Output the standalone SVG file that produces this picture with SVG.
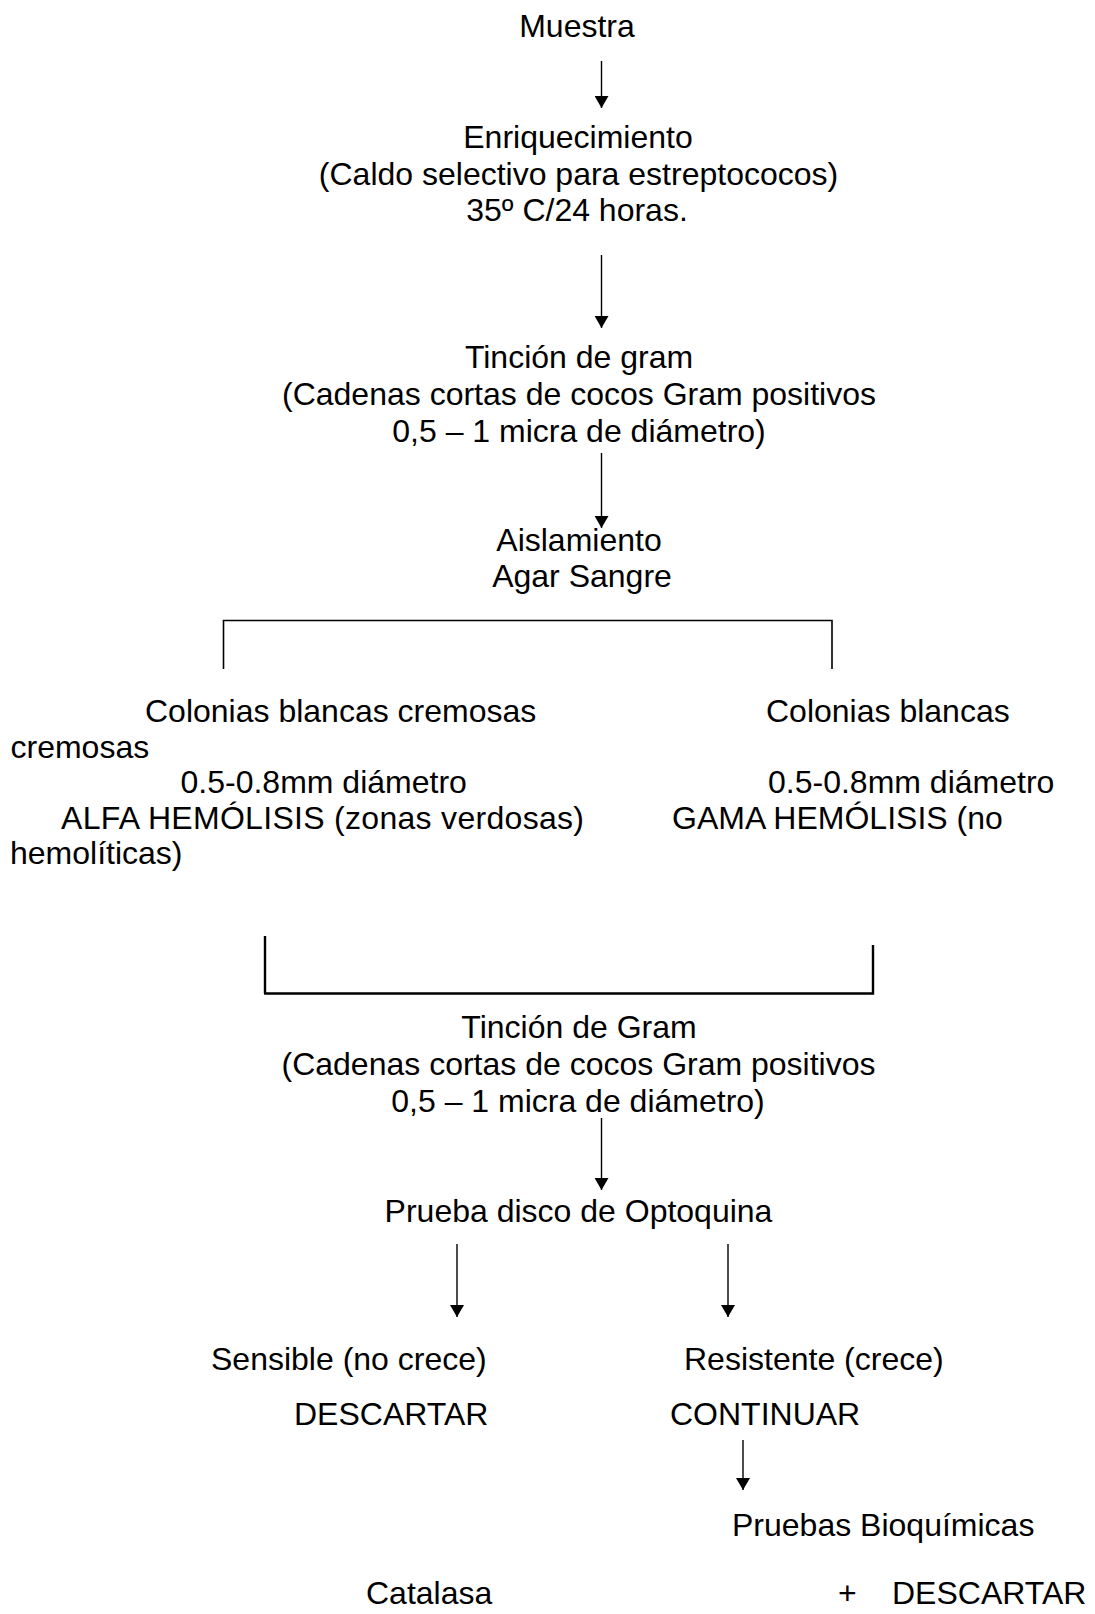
<svg xmlns="http://www.w3.org/2000/svg" width="1095" height="1614" viewBox="0 0 1095 1614">
<style>
text{font-family:"Liberation Sans",Arial,sans-serif;font-size:32px;fill:#000}
.c{text-anchor:middle}
.ln{stroke:#000;stroke-width:1.4;fill:none}
.br{stroke:#000;stroke-width:1.6;fill:none}
.br2{stroke:#000;stroke-width:2.4;fill:none}
</style>
<defs>
<marker id="ah" markerUnits="userSpaceOnUse" markerWidth="12" markerHeight="14" viewBox="0 0 12 14" refX="12" refY="7" orient="auto">
<path d="M0,0 L12,7 L0,14 z" fill="#000"/>
</marker>
</defs>
<rect width="1095" height="1614" fill="#fff"/>
<g id="connectors">
<line class="ln" x1="601.5" y1="61" x2="601.5" y2="108" marker-end="url(#ah)"/>
<line class="ln" x1="601.5" y1="255" x2="601.5" y2="328" marker-end="url(#ah)"/>
<line class="ln" x1="601.5" y1="453" x2="601.5" y2="528" marker-end="url(#ah)"/>
<polyline class="br" points="223.5,669 223.5,620.5 832,620.5 832,669"/>
<polyline class="br2" points="265,936 265,993.5"/>
<polyline class="br2" points="264,993.5 873,993.5 873,945"/>
<line class="ln" x1="601.5" y1="1118" x2="601.5" y2="1190" marker-end="url(#ah)"/>
<line class="ln" x1="457" y1="1244" x2="457" y2="1317" marker-end="url(#ah)"/>
<line class="ln" x1="728" y1="1244" x2="728" y2="1317" marker-end="url(#ah)"/>
<line class="ln" x1="743" y1="1440" x2="743" y2="1490" marker-end="url(#ah)"/>
</g>
<g id="muestra"><text class="c" x="577" y="37">Muestra</text></g>
<g id="enriquecimiento">
<text class="c" x="578" y="148">Enriquecimiento</text>
<text class="c" x="578.5" y="185">(Caldo selectivo para estreptococos)</text>
<text class="c" x="577" y="221">35º C/24 horas.</text>
</g>
<g id="tincion1">
<text class="c" x="579" y="368">Tinción de gram</text>
<text class="c" x="579" y="405">(Cadenas cortas de cocos Gram positivos</text>
<text class="c" x="579" y="442">0,5 – 1 micra de diámetro)</text>
</g>
<g id="aislamiento">
<text class="c" x="579" y="551">Aislamiento</text>
<text class="c" x="582" y="587">Agar Sangre</text>
</g>
<g id="colonias-alfa">
<text x="145" y="722">Colonias blancas cremosas</text>
<text x="10.5" y="758">cremosas</text>
<text x="180.5" y="793">0.5-0.8mm diámetro</text>
<text x="61" y="829" textLength="523" lengthAdjust="spacing">ALFA HEMÓLISIS (zonas verdosas)</text>
<text x="10" y="864">hemolíticas)</text>
</g>
<g id="colonias-gama">
<text x="766" y="722">Colonias blancas</text>
<text x="768" y="793">0.5-0.8mm diámetro</text>
<text x="672" y="829">GAMA HEMÓLISIS (no</text>
</g>
<g id="tincion2">
<text class="c" x="579" y="1038">Tinción de Gram</text>
<text class="c" x="578.5" y="1075">(Cadenas cortas de cocos Gram positivos</text>
<text class="c" x="578" y="1112">0,5 – 1 micra de diámetro)</text>
</g>
<g id="optoquina"><text class="c" x="578.5" y="1222">Prueba disco de Optoquina</text></g>
<g id="sensible">
<text x="211" y="1370">Sensible (no crece)</text>
<text x="294" y="1425">DESCARTAR</text>
</g>
<g id="resistente">
<text x="684" y="1370">Resistente (crece)</text>
<text x="670" y="1425">CONTINUAR</text>
</g>
<g id="bioquimicas"><text x="732" y="1536">Pruebas Bioquímicas</text></g>
<g id="catalasa">
<text x="366" y="1604">Catalasa</text>
<text x="838" y="1604">+</text>
<text x="892" y="1604">DESCARTAR</text>
</g>
</svg>
